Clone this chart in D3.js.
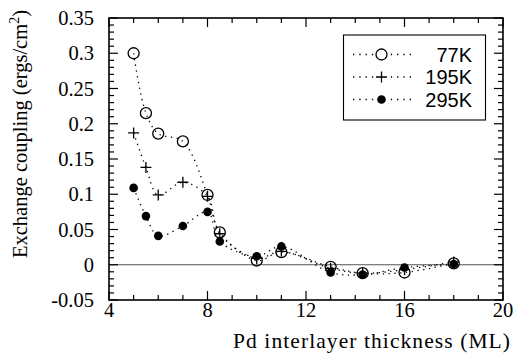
<!DOCTYPE html>
<html><head><meta charset="utf-8">
<script src="https://cdn.jsdelivr.net/npm/d3@7"></script>
<style>body{margin:0;background:#fff}svg{display:block}</style>
</head><body>
<svg id="c" width="516" height="354"></svg>
<script>
const thickness = [5, 5.5, 6, 7, 8, 8.5, 10, 11, 13, 14.3, 16, 18];
const k77  = [0.300, 0.215, 0.186, 0.175, 0.099, 0.046, 0.006, 0.018, -0.003, -0.012, -0.011, 0.002];
const k195 = [0.187, 0.138, 0.099, 0.117, 0.097, 0.044, 0.009, 0.019, -0.005, -0.012, -0.007, 0.004];
const k295 = [0.109, 0.069, 0.041, 0.055, 0.075, 0.033, 0.012, 0.026, -0.011, -0.014, -0.004, 0.001];
const seriesNames = ["77K", "195K", "295K"];
const xTicks = [4, 8, 12, 16, 20];
const yTicks = [-0.05, 0, 0.05, 0.1, 0.15, 0.2, 0.25, 0.3, 0.35];
const yTickLabels = ["-0.05", "0", "0.05", "0.1", "0.15", "0.2", "0.25", "0.3", "0.35"];

const svg = d3.select("#c");
const L = 109, R = 503, T = 18, B = 300;
const x = d3.scaleLinear().domain([4, 20]).range([L, R]);
const y = d3.scaleLinear().domain([-0.05, 0.35]).range([B, T]);
const serif = "'Liberation Serif','Times New Roman',serif";
const sans = "'Liberation Sans',Arial,sans-serif";

// zero line
svg.append("line").attr("x1", L).attr("x2", R).attr("y1", y(0)).attr("y2", y(0))
  .attr("stroke", "#555").attr("stroke-width", 1);

// ticks inward on all sides
const g = svg.append("g").attr("stroke", "#000").attr("stroke-width", 1.2);
const xMinor = d3.range(4, 20.01, 1);
xMinor.forEach(v => {
  const major = xTicks.includes(v);
  const len = major ? 9 : 5;
  g.append("line").attr("x1", x(v)).attr("x2", x(v)).attr("y1", B).attr("y2", B - len);
  g.append("line").attr("x1", x(v)).attr("x2", x(v)).attr("y1", T).attr("y2", T + len);
});
const yMinor = d3.range(-50, 351, 10).map(d => d / 1000);
yMinor.forEach(v => {
  const major = Math.round(v * 1000) % 50 === 0;
  const len = major ? 9 : 5;
  g.append("line").attr("y1", y(v)).attr("y2", y(v)).attr("x1", L).attr("x2", L + len);
  g.append("line").attr("y1", y(v)).attr("y2", y(v)).attr("x1", R).attr("x2", R - len);
});
svg.append("rect").attr("x", L).attr("y", T).attr("width", R - L).attr("height", B - T)
  .attr("fill", "none").attr("stroke", "#000").attr("stroke-width", 1.6);

// tick labels
svg.append("g").selectAll("text").data(xTicks).join("text")
  .attr("x", d => x(d)).attr("y", 317).attr("text-anchor", "middle")
  .attr("font-family", serif).attr("font-size", 20.5).text(d => d);
svg.append("g").selectAll("text").data(yTicks).join("text")
  .attr("x", 94).attr("y", d => y(d)).attr("dy", "0.35em").attr("text-anchor", "end")
  .attr("font-family", serif).attr("font-size", 20.5).text((d, i) => yTickLabels[i]);

// axis titles
svg.append("text").attr("x", 233).attr("y", 348)
  .attr("font-family", serif).attr("font-size", 21.5)
  .attr("textLength", 277).attr("lengthAdjust", "spacing")
  .text("Pd interlayer thickness (ML)");
const yt = svg.append("text").attr("transform", "translate(27,134) rotate(-90)")
  .attr("text-anchor", "middle").attr("font-family", serif).attr("font-size", 20.5);
yt.append("tspan").text("Exchange coupling (ergs/cm");
yt.append("tspan").attr("dy", -8).attr("font-size", 14).text("2");
yt.append("tspan").attr("dy", 8).text(")");

// series
const data = [k77, k195, k295];
const line = d3.line().x(d => x(d[0])).y(d => y(d[1])).curve(d3.curveCatmullRom.alpha(0.5));
data.forEach(vals => {
  const pts = thickness.map((t, i) => [t, vals[i]]);
  svg.append("path").attr("d", line(pts)).attr("fill", "none").attr("stroke", "#000")
    .attr("stroke-width", 1.3).attr("stroke-dasharray", "1.3,4.5");
});

function marker(sel, type, cx, cy) {
  if (type === 0) {
    sel.append("circle").attr("cx", cx).attr("cy", cy).attr("r", 5.5)
      .attr("fill", "none").attr("stroke", "#000").attr("stroke-width", 1.3);
  } else if (type === 1) {
    sel.append("path").attr("d", `M${cx - 5.5},${cy}H${cx + 5.5}M${cx},${cy - 5.5}V${cy + 5.5}`)
      .attr("stroke", "#000").attr("stroke-width", 1.3);
  } else {
    sel.append("circle").attr("cx", cx).attr("cy", cy).attr("r", 4.3).attr("fill", "#000");
  }
}
const mg = svg.append("g");
data.forEach((vals, s) => {
  thickness.forEach((t, i) => marker(mg, s, x(t), y(vals[i])));
});

// legend
svg.append("rect").attr("x", 343.5).attr("y", 35).attr("width", 142).attr("height", 85)
  .attr("fill", "#fff").attr("stroke", "#000").attr("stroke-width", 1.1);
const rows = [54.5, 77, 99.5];
seriesNames.forEach((n, s) => {
  svg.append("line").attr("x1", 353).attr("x2", 412).attr("y1", rows[s]).attr("y2", rows[s])
    .attr("stroke", "#000").attr("stroke-width", 1.3).attr("stroke-dasharray", "1.3,5");
  svg.append("rect").attr("x", 374).attr("y", rows[s] - 7).attr("width", 15).attr("height", 14).attr("fill", "#fff");
  marker(svg, s, 381.5, rows[s]);
  svg.append("text").attr("x", 472).attr("y", rows[s]).attr("dy", "0.36em").attr("text-anchor", "end")
    .attr("font-family", sans).attr("font-size", 20).text(n);
});
</script>
</body></html>
